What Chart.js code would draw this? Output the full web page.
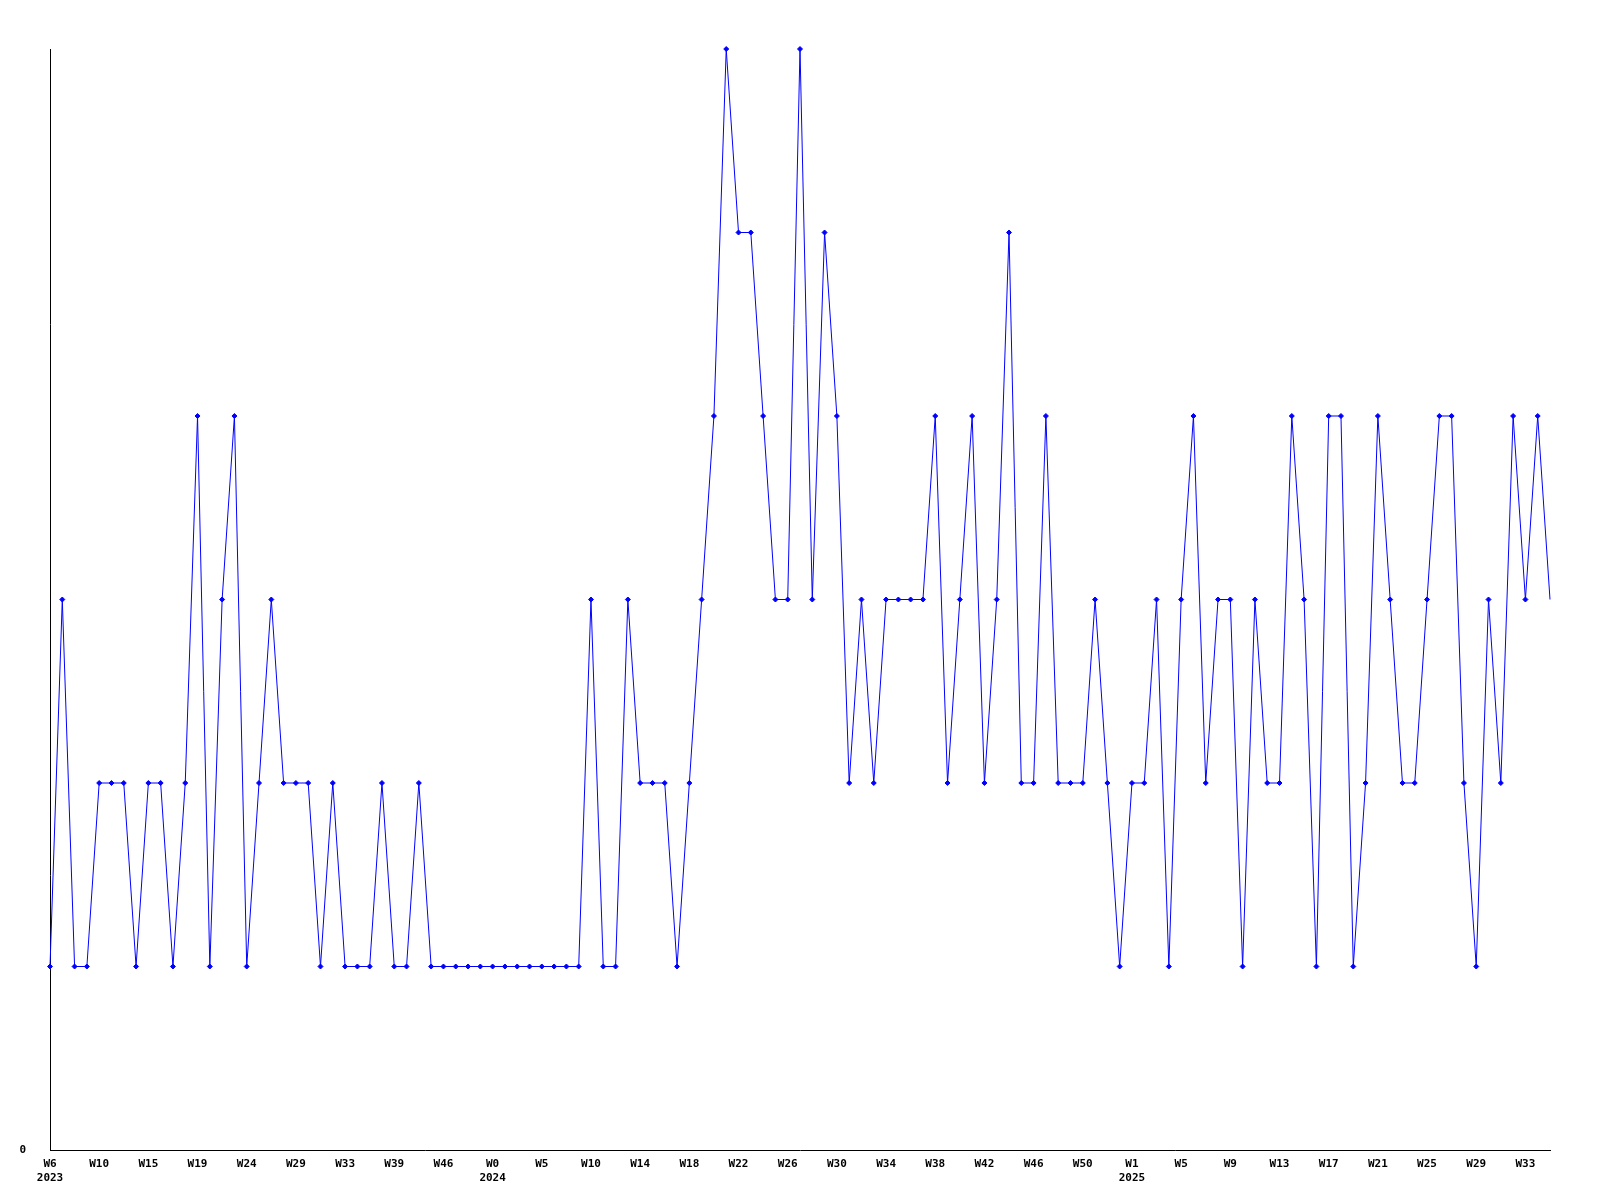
<!DOCTYPE html>
<html lang="en">
<head>
    <meta charset="UTF-8">
    <title>Weekly chart</title>
    <style>
        * {
            margin: 0;
            padding: 0;
            box-sizing: border-box;
        }

        body {
            background: #fff;
        }

        #chart {
            display: block;
        }
    </style>
</head>
<body>
    <canvas id="chart" width="1600" height="1200"></canvas>

    <script src="https://cdn.jsdelivr.net/npm/chart.js"></script>
    <script>
        // labels shown under every 4th week
        const tickWeeks = ['W6', 'W10', 'W15', 'W19', 'W24', 'W29', 'W33', 'W39', 'W46', 'W0',
            'W5', 'W10', 'W14', 'W18', 'W22', 'W26', 'W30', 'W34', 'W38', 'W42',
            'W46', 'W50', 'W1', 'W5', 'W9', 'W13', 'W17', 'W21', 'W25', 'W29', 'W33'];
        const tickYears = ['2023', '', '', '', '', '', '', '', '', '2024',
            '', '', '', '', '', '', '', '', '', '',
            '', '', '2025', '', '', '', '', '', '', '', ''];

        // one value per week
        const values = [
            1, 3, 1, 1, 2, 2, 2, 1, 2, 2,
            1, 2, 4, 1, 3, 4, 1, 2, 3, 2,
            2, 2, 1, 2, 1, 1, 1, 2, 1, 1,
            2, 1, 1, 1, 1, 1, 1, 1, 1, 1,
            1, 1, 1, 1, 3, 1, 1, 3, 2, 2,
            2, 1, 2, 3, 4, 6, 5, 5, 4, 3,
            3, 6, 3, 5, 4, 2, 3, 2, 3, 3,
            3, 3, 4, 2, 3, 4, 2, 3, 5, 2,
            2, 4, 2, 2, 2, 3, 2, 1, 2, 2,
            3, 1, 3, 4, 2, 3, 3, 1, 3, 2,
            2, 4, 3, 1, 4, 4, 1, 2, 4, 3,
            2, 2, 3, 4, 4, 2, 1, 3, 2, 4,
            3, 4, 3
        ];

        const labels = values.map((v, i) => i % 4 === 0 ? [tickWeeks[i / 4], tickYears[i / 4]] : '');

        const tickFont = { family: "'DejaVu Sans Mono', monospace", size: 11, weight: 'bold' };

        const ctx = document.getElementById('chart').getContext('2d');
        new Chart(ctx, {
            type: 'line',
            data: {
                labels: labels,
                datasets: [{
                    data: values,
                    borderColor: '#0000ff',
                    backgroundColor: '#0000ff',
                    borderWidth: 1,
                    tension: 0,
                    fill: false,
                    pointStyle: 'rectRot',
                    // the last (running) week has no marker
                    pointRadius: c => c.dataIndex === values.length - 1 ? 0 : 2.5,
                    pointBorderWidth: 1,
                    clip: false
                }]
            },
            options: {
                responsive: false,
                animation: false,
                layout: {
                    padding: { top: 49, right: 50, left: 0, bottom: 0 }
                },
                plugins: {
                    legend: { display: false },
                    tooltip: { enabled: false }
                },
                scales: {
                    x: {
                        type: 'category',
                        offset: false,
                        grid: { display: false, drawTicks: false },
                        border: { color: '#000', width: 1 },
                        ticks: {
                            autoSkip: false,
                            maxRotation: 0,
                            minRotation: 0,
                            padding: 8,
                            color: '#000',
                            font: tickFont
                        },
                        afterFit: s => { s.height = 50; }
                    },
                    y: {
                        min: 0,
                        max: 6,
                        grid: { display: false, drawTicks: false },
                        border: { color: '#000', width: 1 },
                        ticks: {
                            stepSize: 1,
                            padding: 24,
                            color: '#000',
                            font: tickFont,
                            callback: v => v === 0 ? '0' : ''
                        },
                        afterFit: s => { s.width = 50; }
                    }
                }
            }
        });
    </script>
</body>
</html>
